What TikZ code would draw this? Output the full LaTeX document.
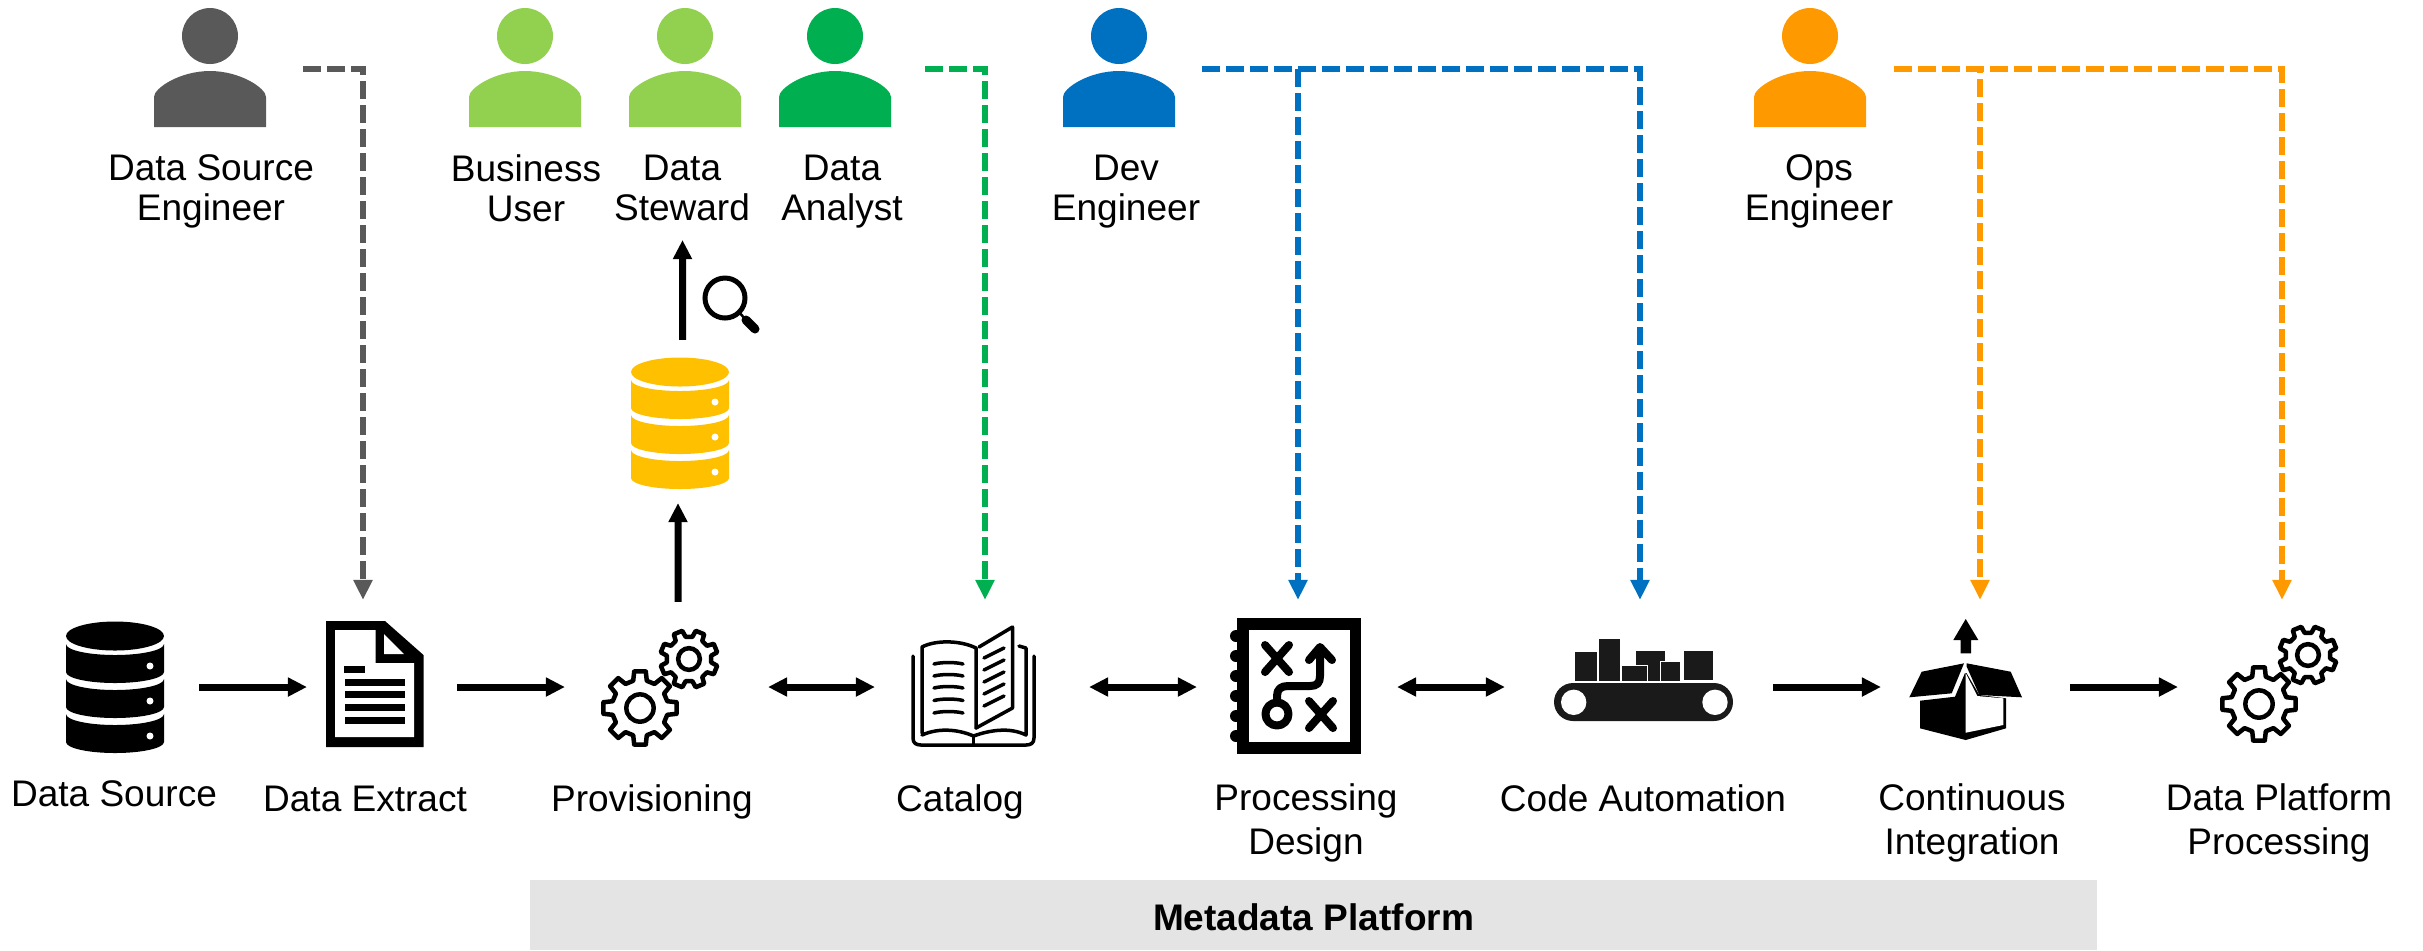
\documentclass[tikz,border=0pt]{standalone}
\usepackage{fontspec}
\setmainfont{Liberation Sans}
\usetikzlibrary{arrows.meta}
\definecolor{slate}{HTML}{595959}
\definecolor{leaf}{HTML}{92D050}
\definecolor{forest}{HTML}{00B050}
\definecolor{ocean}{HTML}{0070C0}
\definecolor{amber}{HTML}{FF9900}
\definecolor{gold}{HTML}{FFC000}
\definecolor{panel}{HTML}{E4E4E4}
\definecolor{belt}{HTML}{1A1A1A}
\tikzset{
  txt/.style={anchor=north,inner sep=0pt,align=center,execute at begin node=\strut,
    font=\fontsize{10.53}{12.5}\selectfont},
  toptxt/.style={txt,font=\fontsize{10.53}{11.4}\selectfont},
  icon/.style={inner sep=0pt,outer sep=0pt,minimum height=1.32cm,minimum width=#1},
  flow/.style={line width=.07cm,-{Triangle[length=.19cm,width=.18cm]}},
  both/.style={line width=.07cm,{Triangle[length=.19cm,width=.18cm]}-{Triangle[length=.19cm,width=.18cm]}},
  gaps/.style 2 args={shorten <=#1,shorten >=#2},
  link/.style={line width=.06cm,dash pattern=on .18cm off .06cm,shorten >=.21cm,
    -{Triangle[length=.2cm,width=.18cm]}},
  pics/person/.style={code={
    \fill[#1] (0,-33) circle[radius=28];
    \fill[#1] (-56,58) -- (-56,28) .. controls (-56,19) and (-30,2) .. (0,2)
      .. controls (30,2) and (56,19) .. (56,28) -- (56,58) -- cycle;
  }},
  pics/stack/.style={code={
    \fill[#1] (0,-51) ellipse[x radius=49,y radius=14.5];
    \foreach \y in {-43,-8,27}
      \fill[#1] (-49,\y) arc[start angle=180,end angle=0,x radius=49,y radius=11]
        -- (49,\y+28) arc[start angle=0,end angle=180,x radius=49,y radius=11] -- cycle;
    \foreach \y in {-21,14,49}
      \fill[white] (35,\y) circle[radius=3.5];
  }},
  pics/gear/.style 2 args={code={
    \draw[line width=.045cm,line join=round,fill=white] ({#2-14}:{.72*#1})
      \foreach \a in {0,45,...,315} {
        -- ({\a+#2-14}:{.72*#1}) -- ({\a+#2-9}:{#1-2}) -- ({\a+#2+9}:{#1-2}) -- ({\a+#2+14}:{.72*#1})
      } -- cycle;
    \draw[line width=.045cm] (0,0) circle[radius={.35*#1}];
  }},
}
\begin{document}
\begin{tikzpicture}[x=.01cm,y=-.01cm]
\useasboundingbox (0,0) rectangle (2423,950);
% people along the top
\node (dse) [icon=1.12cm,minimum height=.1cm] at (210,69) {};
\node (bu) [icon=1.12cm,minimum height=.1cm] at (525,69) {};
\node (st) [icon=1.12cm,minimum height=.1cm] at (685,69) {};
\node (da) [icon=1.12cm,minimum height=.1cm] at (835,69) {};
\node (dev) [icon=1.12cm,minimum height=.1cm] at (1119,69) {};
\node (ops) [icon=1.12cm,minimum height=.1cm] at (1810,69) {};
\pic at (dse) {person=slate};
\pic at (bu) {person=leaf};
\pic at (st) {person=leaf};
\pic at (da) {person=forest};
\pic at (dev) {person=ocean};
\pic at (ops) {person=amber};
\node (dsel) [toptxt] at (211,154) {Data Source\\Engineer};
\node (bul) [toptxt] at (526,154) {Business\\User};
\node (stl) [toptxt] at (682,154) {Data\\Steward};
\node (dal) [toptxt] at (842,154) {Data\\Analyst};
\node (devl) [toptxt] at (1126,154) {Dev\\Engineer};
\node (opsl) [toptxt] at (1819,154) {Ops\\Engineer};
% the row of steps
\node (ds) [icon=.98cm] at (115,687) {};
\node (de) [icon=.98cm] at (375,687) {};
\node (pv) [icon=1.2cm] at (660,687) {};
\node (ct) [icon=1.21cm] at (973.5,687) {};
\node (pd) [icon=1.28cm] at (1297,687) {};
\node (ca) [icon=1.79cm] at (1643.5,687) {};
\node (ci) [icon=1.12cm] at (1966,687) {};
\node (pp) [icon=1.2cm] at (2279,687) {};
\node (db) [icon=.98cm] at (680,423) {};
\pic at (ds) {stack=black};
\pic at (db) {stack=gold};
% document
\fill (326,621) -- (385,621) -- (423.5,655) -- (423.5,747) -- (326,747) -- cycle;
\fill[white] (335,630) -- (375.5,630) -- (375.5,663) -- (414,663) -- (414,737) -- (335,737) -- cycle;
\fill[white] (384,634) -- (404,654) -- (384,654) -- cycle;
\fill (344,666) rectangle (365,673);
\foreach \y in {679,691,704,717}
  \fill (344.5,\y) rectangle (405,\y+6.5);
% gears
\pic at (689,659) {gear={31}{22.5}};
\pic at (640,708) {gear={39}{0}};
\pic at (2308,655) {gear={31}{22.5}};
\pic at (2259,704) {gear={39}{0}};
% book
\begin{scope}[line width=.035cm,line cap=round,line join=round]
\draw (913,656) -- (913,738) .. controls (913,743) and (916,745) .. (921,745) -- (1026,745)
  .. controls (1031,745) and (1034,743) .. (1034,738) -- (1034,656);
\draw (922,733) -- (922,647) .. controls (935,640) and (960,640) .. (976,648) -- (976,728);
\draw (922,735) .. controls (940,727) and (960,730) .. (973.5,736)
  .. controls (990,730) and (1010,727) .. (1026,735) -- (1026,648) -- (1019,646);
\draw (976,728) -- (1012.5,708) -- (1012.5,627) -- (979,647);
\draw (973.5,736) -- (973.5,745);
\foreach \y in {664,676,688,700.5,713}
  \draw (934,\y) .. controls (942,\y-2) and (955,\y-2) .. (963,\y);
\foreach \y in {0,12,24,36,48}
  \draw (984,658+\y) -- (1004,648+\y);
\end{scope}
% playbook
\fill (1237,618) rectangle (1361,754);
\fill[white] (1249,630) rectangle (1349.5,742);
\foreach \y in {636,656,676,696,716,736}
  \fill (1236,\y) circle[radius=6];
\begin{scope}[line width=.08cm,line cap=round,line join=round]
\draw (1265,645) -- (1289,672) (1289,645) -- (1265,672);
\draw (1309,701) -- (1333,728) (1333,701) -- (1309,728);
\draw (1277,714) circle[radius=11.5];
\draw (1277,702) -- (1277,696) .. controls (1277,689) and (1281,686) .. (1288,686) -- (1310,686)
  .. controls (1317,686) and (1320,683) .. (1320,676) -- (1320,649);
\draw (1309,660) -- (1320,647) -- (1332,660);
\end{scope}
% conveyor
\fill[belt,rounded corners=.19cm] (1554,683) rectangle (1733,721);
\fill[white] (1573.7,702.3) circle[radius=12.7] (1715,702.3) circle[radius=12.7];
\fill[belt] (1574.7,652.3) rectangle (1597.3,681);
\fill[belt] (1599.3,639.3) rectangle (1620,681);
\fill[belt] (1636,650.7) rectangle (1664.7,681);
\filldraw[belt,draw=white,line width=.01cm] (1621,665.3) rectangle (1647.3,681);
\filldraw[belt,draw=white,line width=.01cm] (1660,661) rectangle (1680.3,681);
\fill[belt] (1684,650.7) rectangle (1713,680);
% open box
\fill (1965.7,619) -- (1978.3,640) -- (1971,640) -- (1971,653.3) -- (1960.7,653.3) -- (1960.7,640)
  -- (1953.3,640) -- cycle;
\fill (1920,700.7) -- (1955,696.7) -- (1965,673) -- (1966.5,673) -- (1979.3,695) -- (2006,698.3)
  -- (2006,728.3) -- (1965.7,740) -- (1920,728.3) -- cycle;
\fill[white] (1965.7,673) -- (1977.3,696) -- (2003.3,698.3) -- (2003.3,725) -- (1965.7,732.7) -- cycle;
\fill (1964,663.3) -- (1921.7,671.7) -- (1909.3,697.3) -- (1951.7,693.3) -- cycle;
\fill (1966.7,663.3) -- (2010.7,671.7) -- (2022,697.3) -- (1979.3,695) -- (1966.7,666.7) -- cycle;
% magnifier
\draw[line width=.05cm] (725,298) circle[radius=20];
\draw[line width=.025cm] (739,312) -- (746,320);
\draw[line width=.09cm,line cap=round] (746,320) -- (755,329);
% step labels
\node (dsl) [txt] at (114,775) {Data Source};
\node (del) [txt] at (365,780) {Data Extract};
\node (pvl) [txt] at (652,780) {Provisioning};
\node (ctl) [txt] at (960,780) {Catalog};
\node (pdl) [txt] at (1306,783) {Processing\\Design};
\node (cal) [txt] at (1643,780) {Code Automation};
\node (cil) [txt] at (1972,783) {Continuous\\Integration};
\node (ppl) [txt] at (2279,783) {Data Platform\\Processing};
\node (mp) [inner sep=0pt,fill=panel,minimum width=15.67cm,minimum height=.7cm,text height=.31cm,text depth=0pt,
  font=\fontsize{10.53}{12.5}\selectfont\bfseries] at (1313.5,915) {Metadata Platform};
% black arrows
\draw[flow,gaps={.35cm}{.19cm}] (ds) -- (de);
\draw[flow,gaps={.33cm}{.35cm}] (de) -- (pv);
\draw[both,gaps={.48cm}{.38cm}] (pv) -- (ct);
\draw[both,gaps={.55cm}{.36cm}] (ct) -- (pd);
\draw[both,gaps={.36cm}{.49cm}] (pd) -- (ca);
\draw[flow,gaps={.40cm}{.29cm}] (ca) -- (ci);
\draw[flow,gaps={.48cm}{.41cm}] (ci) -- (pp);
\draw[flow,gaps={.19cm}{.14cm}] ([xshift=.18cm]pv.north) -- ([xshift=-.02cm]db.south);
\draw[flow,gaps={.17cm}{.07cm}] ([xshift=.025cm]db.north) -- ([xshift=.005cm]stl.south);
% dashed arrows
\draw[link,slate] ([xshift=.37cm]dse.east) -| ([xshift=-.12cm]de.north);
\draw[link,forest] ([xshift=.34cm]da.east) -| ([xshift=.115cm]ct.north);
\draw[link,ocean] ([xshift=.27cm]dev.east) -| ([xshift=-.035cm]ca.north);
\draw[link,ocean] ([xshift=.27cm]dev.east) -| ([xshift=.01cm]pd.north);
\draw[link,amber] ([xshift=.28cm]ops.east) -| ([xshift=.03cm]pp.north);
\draw[link,amber] ([xshift=.28cm]ops.east) -| ([xshift=.14cm]ci.north);
\end{tikzpicture}
\end{document}
